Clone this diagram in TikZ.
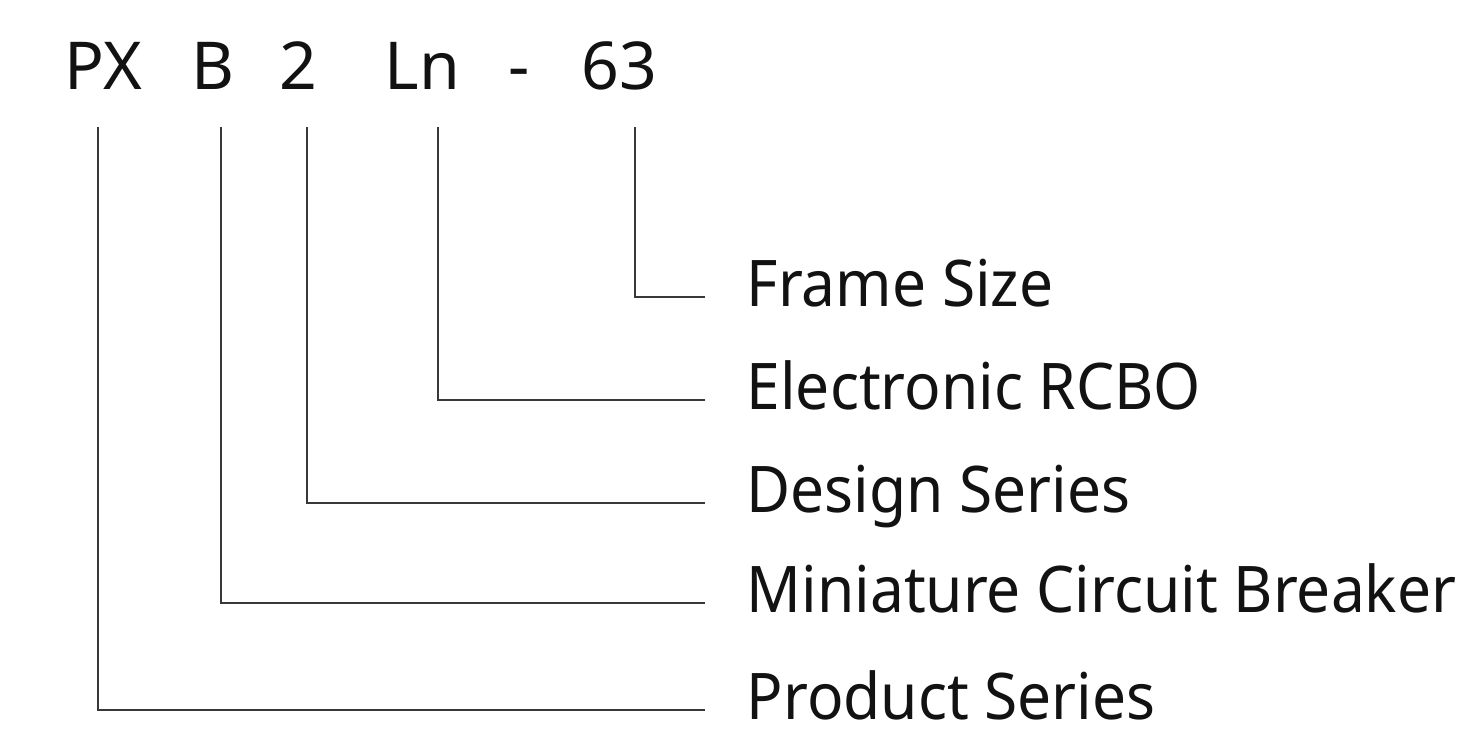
\documentclass[tikz,border=0pt]{standalone}
\usepackage{fontspec}
\setmainfont{Noto Sans}[FakeStretch=0.94]
\newfontfamily\codefont{Noto Sans}
\usepackage{tikz}
\usetikzlibrary{calc}

\tikzset{
	code/.style={anchor=base west, inner sep=0pt, font=\codefont\fontsize{18.8}{22}\selectfont, color=black!93},
	caption/.style={anchor=base west, inner sep=0pt, font=\fontsize{18.3}{22}\selectfont, color=black!93},
	lead/.style={line width=0.25mm, color=black!78}
}

\begin{document}
\begin{tikzpicture}
			%%%%% START %%%%%
			\useasboundingbox (0, 0) rectangle (14.6, 7.37);
			
			% type code
			\node[code] (cPX) at (0.64, 6.47) {PX};
			\node[code] (cB) at (1.91, 6.47) {B};
			\node[code] (cTwo) at (2.79, 6.47) {2};
			\node[code] (cLn) at (3.84, 6.47) {Ln};
			\node[code] (cDash) at (5.08, 6.47) {-};
			\node[code] (c63) at (5.81, 6.47) {63};
			
			\coordinate (tPX) at (0.98, 6.10);
			\coordinate (tB) at (2.21, 6.10);
			\coordinate (tTwo) at (3.07, 6.10);
			\coordinate (tLn) at (4.38, 6.10);
			\coordinate (t63) at (6.35, 6.10);
			
			% meanings
			\node[caption] (lFrame) at (7.46, 4.30) {Frame Size};
			\node[caption] (lRcbo) at (7.46, 3.27) {Electronic RCBO};
			\node[caption] (lDesign) at (7.46, 2.24) {Design Series};
			\node[caption] (lMcb) at (7.46, 1.24) {Miniature Circuit Breaker};
			\node[caption] (lProduct) at (7.46, 0.17) {Product Series};
			
			\draw[lead] (t63) |- ([xshift=-4.1mm, yshift=1mm]lFrame.base west);
			\draw[lead] (tLn) |- ([xshift=-4.1mm, yshift=1mm]lRcbo.base west);
			\draw[lead] (tTwo) |- ([xshift=-4.1mm, yshift=1mm]lDesign.base west);
			\draw[lead] (tB) |- ([xshift=-4.1mm, yshift=1mm]lMcb.base west);
			\draw[lead] (tPX) |- ([xshift=-4.1mm, yshift=1mm]lProduct.base west);
			
			%%%%% END %%%%%
\end{tikzpicture}
\end{document}
